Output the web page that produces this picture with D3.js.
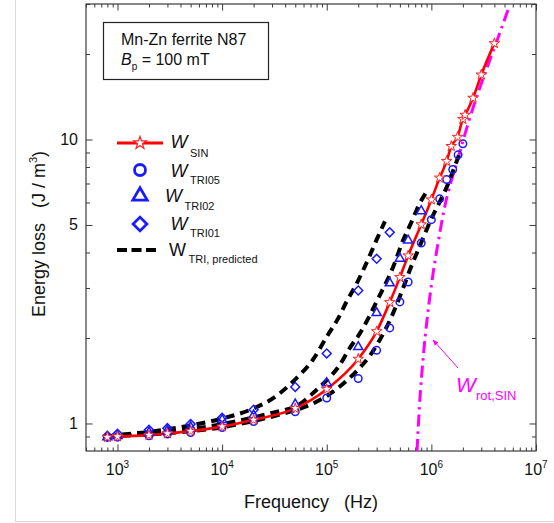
<!DOCTYPE html>
<html>
<head>
<meta charset="utf-8">
<script src="https://cdn.jsdelivr.net/npm/d3@7/dist/d3.min.js"></script>
<style>
  html, body { margin: 0; padding: 0; background: #fff; }
  svg { display: block; font-family: Arial, "Liberation Sans", sans-serif; }
</style>
</head>
<body>
<svg id="chart" width="554" height="523"></svg>
<script>
// ---------------- data ----------------
const freqSIN = [800, 1e3, 2e3, 3e3, 5e3, 1e4, 2e4, 5e4, 1e5, 2e5, 3e5, 4e5, 5e5, 6e5, 8e5, 1e6, 1.2e6, 1.4e6, 1.55e6, 1.78e6, 2.0e6, 2.1e6, 2.5e6, 3e6, 4e6];
const wSIN    = [0.895, 0.9, 0.91, 0.922, 0.94, 0.975, 1.03, 1.13, 1.32, 1.687, 2.11, 2.67, 3.27, 3.9, 5.02, 6.14, 7.33, 8.39, 9.47, 10.2, 11.8, 12.2, 14.0, 16.9, 21.8];

const freqTRI05 = [800, 1e3, 2e3, 3e3, 5e3, 1e4, 2e4, 5e4, 1e5, 2e5, 3e5, 4e5, 5e5, 6e5, 8e5, 1e6, 1.2e6, 1.4e6, 1.6e6, 1.8e6, 2e6];
const wTRI05    = [0.893, 0.895, 0.905, 0.918, 0.929, 0.968, 1.016, 1.10, 1.229, 1.44, 1.81, 2.17, 2.68, 3.15, 4.32, 5.22, 6.18, 7.23, 7.84, 8.83, 9.66];

const freqTRI02 = [800, 1e3, 2e3, 3e3, 5e3, 1e4, 2e4, 5e4, 1e5, 2e5, 3e5, 4e5, 5e5, 6e5, 8e5];
const wTRI02    = [0.895, 0.905, 0.93, 0.945, 0.97, 1.03, 1.068, 1.168, 1.388, 1.86, 2.45, 3.12, 3.81, 4.41, 5.6];

const freqTRI01 = [800, 1e3, 2e3, 3e3, 5e3, 1e4, 2e4, 5e4, 1e5, 2e5, 3e5, 4e5];
const wTRI01    = [0.905, 0.92, 0.95, 0.963, 0.995, 1.048, 1.118, 1.345, 1.765, 2.94, 3.80, 4.71];

// predicted curves (black dashed)
const predFreq01 = [800, 1e3, 2e3, 3e3, 5e3, 1e4, 2e4, 3e4, 5e4, 7.4e4, 1e5, 1.29e5, 1.55e5, 1.87e5, 2.6e5, 3e5, 3.6e5];
const predW01    = [0.9, 0.91, 0.935, 0.955, 0.985, 1.04, 1.13, 1.22, 1.43, 1.68, 2.02, 2.35, 2.69, 3.04, 3.93, 4.44, 5.15];

const predFreq02 = [800, 1e3, 2e3, 3e3, 5e3, 1e4, 2e4, 3e4, 5.6e4, 7.7e4, 1e5, 1.29e5, 1.67e5, 2.08e5, 2.5e5, 3e5, 4.34e5, 5.4e5, 6.5e5, 7.5e5, 9.06e5];
const predW02    = [0.9, 0.905, 0.92, 0.935, 0.955, 0.995, 1.05, 1.09, 1.173, 1.297, 1.42, 1.58, 1.85, 2.08, 2.35, 2.69, 3.58, 4.44, 5.15, 5.82, 6.57];

const predFreq05 = [800, 1e3, 2e3, 5e3, 1e4, 2e4, 4e4, 7e4, 1e5, 1.5e5, 2e5, 2.69e5, 3.24e5, 4.04e5, 5e5, 6.65e5, 7.7e5, 1.01e6, 1.21e6, 1.45e6, 1.63e6, 1.86e6];
const predW05    = [0.9, 0.905, 0.915, 0.94, 0.97, 1.02, 1.088, 1.165, 1.25, 1.40, 1.55, 1.77, 1.98, 2.32, 2.80, 3.69, 4.19, 5.30, 6.06, 7.0, 7.84, 8.92];

// rotational loss (magenta dash-dot)
const rotFreq = [7.29e5, 7.69e5, 8.39e5, 9.12e5, 1.03e6, 1.17e6, 1.31e6, 1.82e6, 2.26e6, 2.72e6, 3.4e6, 4.39e6, 5.4e6];
const rotW    = [0.8, 1.148, 1.738, 2.344, 3.31, 4.416, 5.559, 8.71, 11.48, 14.19, 17.9, 23.1, 28.6];

// axis ticks
const xMajorTicks = [1e3, 1e4, 1e5, 1e6, 1e7];
const xExponents  = ["3", "4", "5", "6", "7"];
const yLabelTicks = [1, 5, 10];
const yLabelText  = ["1", "5", "10"];

// ---------------- layout ----------------
const svg = d3.select("#chart");
const L = 86, R = 536, T = 4, B = 451;
const x = d3.scaleLog().domain([500, 1e7]).range([L, R]);
const y = d3.scaleLog().domain([0.8, 30]).range([B, T]);

const zip = (a, b) => a.map((d, i) => [d, b[i]]);

// page edges (light grey)
svg.append("line").attr("x1", 15.5).attr("x2", 15.5).attr("y1", 0).attr("y2", 521)
  .attr("stroke", "#d9d9d9").attr("stroke-width", 1);
svg.append("line").attr("x1", 15).attr("x2", 554).attr("y1", 521.5).attr("y2", 521.5)
  .attr("stroke", "#d9d9d9").attr("stroke-width", 1);

// ---------------- axes ----------------
const axisColor = "#3a3a3a";
// minor ticks for x
const xMinor = [];
for (let e = 2; e <= 6; e++) for (let m = 1; m <= 9; m++) {
  const v = m * Math.pow(10, e);
  if (v >= 500 && v <= 1e7 && m !== 1) xMinor.push(v);
}
const yMinor = [0.9, 2, 3, 4, 6, 7, 8, 9, 20, 30];
const yMajor = [1, 5, 10];

function styleAxis(g) {
  g.select(".domain").remove();
  g.selectAll("line").attr("stroke", axisColor).attr("stroke-width", 1);
  g.selectAll("text").remove();
}
// bottom
svg.append("g").attr("transform", `translate(0,${B})`)
  .call(d3.axisBottom(x).tickValues(xMinor).tickSize(-3.5).tickFormat(""))
  .call(styleAxis);
const xb = svg.append("g").attr("transform", `translate(0,${B})`)
  .call(d3.axisBottom(x).tickValues(xMajorTicks).tickSize(-6.5).tickFormat(""))
  .call(styleAxis);
// top
svg.append("g").attr("transform", `translate(0,${T})`)
  .call(d3.axisTop(x).tickValues(xMinor).tickSize(-3.5).tickFormat(""))
  .call(styleAxis);
svg.append("g").attr("transform", `translate(0,${T})`)
  .call(d3.axisTop(x).tickValues(xMajorTicks).tickSize(-6.5).tickFormat(""))
  .call(styleAxis);
// left
svg.append("g").attr("transform", `translate(${L},0)`)
  .call(d3.axisLeft(y).tickValues(yMinor).tickSize(-4).tickFormat(""))
  .call(styleAxis);
svg.append("g").attr("transform", `translate(${L},0)`)
  .call(d3.axisLeft(y).tickValues(yMajor).tickSize(-6.5).tickFormat(""))
  .call(styleAxis);
// right
svg.append("g").attr("transform", `translate(${R},0)`)
  .call(d3.axisRight(y).tickValues(yMinor).tickSize(-4).tickFormat(""))
  .call(styleAxis);
svg.append("g").attr("transform", `translate(${R},0)`)
  .call(d3.axisRight(y).tickValues(yMajor).tickSize(-6.5).tickFormat(""))
  .call(styleAxis);

// frame
svg.append("rect").attr("x", L).attr("y", T).attr("width", R - L).attr("height", B - T)
  .attr("fill", "none").attr("stroke", axisColor).attr("stroke-width", 1.2);

// x tick labels 10^n
xMajorTicks.forEach((v, i) => {
  const t = svg.append("text").attr("x", x(v)).attr("y", 475)
    .attr("text-anchor", "middle").attr("font-size", 16).attr("fill", "#111");
  t.append("tspan").text("10");
  t.append("tspan").attr("font-size", 10).attr("dy", -7).text(xExponents[i]);
});
// y tick labels
yLabelTicks.forEach((v, i) => {
  svg.append("text").attr("x", 78).attr("y", y(v) + 5.5)
    .attr("text-anchor", "end").attr("font-size", 16).attr("fill", "#111").text(yLabelText[i]);
});

// axis titles
svg.append("text").attr("x", 311).attr("y", 508).attr("text-anchor", "middle")
  .attr("font-size", 18).attr("fill", "#111").attr("xml:space", "preserve")
  .style("white-space", "pre").text("Frequency   (Hz)");
const yt = svg.append("text").attr("transform", "translate(45,234) rotate(-90)")
  .attr("text-anchor", "middle").attr("font-size", 18).attr("fill", "#111")
  .style("white-space", "pre");
yt.append("tspan").text("Energy loss   (J / m");
yt.append("tspan").attr("font-size", 11).attr("dy", -8).text("3");
yt.append("tspan").attr("dy", 8).text(")");

// ---------------- curves ----------------
const line = d3.line().x(d => x(d[0])).y(d => y(d[1])).curve(d3.curveMonotoneX);

svg.append("defs").append("clipPath").attr("id", "clip")
  .append("rect").attr("x", L).attr("y", T).attr("width", R - L).attr("height", B - T);
const plot = svg.append("g").attr("clip-path", "url(#clip)");

// magenta dash-dot
plot.append("path").attr("d", line(zip(rotFreq, rotW)))
  .attr("fill", "none").attr("stroke", "#ff00ff").attr("stroke-width", 3)
  .attr("stroke-dasharray", "12,5,2.5,5");

// predicted (black dashed)
[[predFreq01, predW01], [predFreq02, predW02], [predFreq05, predW05]].forEach(([f, w]) => {
  plot.append("path").attr("d", line(zip(f, w)))
    .attr("fill", "none").attr("stroke", "#000").attr("stroke-width", 4)
    .attr("stroke-dasharray", "9,6");
});

// red SIN line
plot.append("path").attr("d", line(zip(freqSIN, wSIN)))
  .attr("fill", "none").attr("stroke", "#ff0000").attr("stroke-width", 2.6);

// ---------------- markers ----------------
const blue = "#1a1aff";
const circ = d3.symbol().type(d3.symbolCircle).size(44);
const tri = d3.symbol().type(d3.symbolTriangle).size(36);
const dia = d3.symbol().type(d3.symbolSquare).size(40);
const star = d3.symbol().type(d3.symbolStar).size(34);

plot.selectAll(".d01").data(zip(freqTRI01, wTRI01)).join("path")
  .attr("d", dia).attr("transform", d => `translate(${x(d[0])},${y(d[1])}) rotate(45)`)
  .attr("fill", "none").attr("stroke", blue).attr("stroke-width", 1.5);
plot.selectAll(".d02").data(zip(freqTRI02, wTRI02)).join("path")
  .attr("d", tri).attr("transform", d => `translate(${x(d[0])},${y(d[1])})`)
  .attr("fill", "none").attr("stroke", blue).attr("stroke-width", 1.5);
plot.selectAll(".d05").data(zip(freqTRI05, wTRI05)).join("path")
  .attr("d", circ).attr("transform", d => `translate(${x(d[0])},${y(d[1])})`)
  .attr("fill", "none").attr("stroke", blue).attr("stroke-width", 1.5);
plot.selectAll(".dsin").data(zip(freqSIN, wSIN)).join("path")
  .attr("d", star).attr("transform", d => `translate(${x(d[0])},${y(d[1])})`)
  .attr("fill", "#fff").attr("stroke", "#ff2020").attr("stroke-width", 1);

// ---------------- info box ----------------
svg.append("rect").attr("x", 103.5).attr("y", 22.5).attr("width", 165).attr("height", 57)
  .attr("fill", "#fff").attr("stroke", "#222").attr("stroke-width", 1.2);
svg.append("text").attr("x", 121).attr("y", 45).attr("font-size", 16).attr("fill", "#111")
  .text("Mn-Zn ferrite N87");
const bp = svg.append("text").attr("x", 121).attr("y", 65).attr("font-size", 16).attr("fill", "#111")
  .style("white-space", "pre");
bp.append("tspan").attr("font-style", "italic").text("B");
bp.append("tspan").attr("font-size", 10).attr("dy", 5).text("p");
bp.append("tspan").attr("dy", -5).text(" = 100 mT");

// ---------------- legend ----------------
const lx = 140;
svg.append("line").attr("x1", 117).attr("x2", 163).attr("y1", 143).attr("y2", 143)
  .attr("stroke", "#ff0000").attr("stroke-width", 3);
svg.append("path").attr("d", d3.symbol().type(d3.symbolStar).size(50)())
  .attr("transform", `translate(${lx},143)`).attr("fill", "#fff").attr("stroke", "#ff2020").attr("stroke-width", 1.2);
svg.append("path").attr("d", d3.symbol().type(d3.symbolCircle).size(95)())
  .attr("transform", `translate(${lx},170)`).attr("fill", "none").attr("stroke", blue).attr("stroke-width", 2.8);
svg.append("path").attr("d", d3.symbol().type(d3.symbolTriangle).size(90)())
  .attr("transform", `translate(${lx},196)`).attr("fill", "none").attr("stroke", blue).attr("stroke-width", 2.8);
svg.append("path").attr("d", d3.symbol().type(d3.symbolSquare).size(95)())
  .attr("transform", `translate(${lx},224) rotate(45)`).attr("fill", "none").attr("stroke", blue).attr("stroke-width", 2.8);
svg.append("line").attr("x1", 117).attr("x2", 156).attr("y1", 250).attr("y2", 250)
  .attr("stroke", "#000").attr("stroke-width", 4).attr("stroke-dasharray", "10,4.5");

const legendRows = [
  { xw: 170.5, yw: 148, sub: "SIN", italic: true, ys: 157 },
  { xw: 170.5, yw: 177, sub: "TRI05", italic: true, ys: 184 },
  { xw: 165, yw: 202, sub: "TRI02", italic: true, ys: 210 },
  { xw: 170.5, yw: 230, sub: "TRI01", italic: true, ys: 237 },
  { xw: 169, yw: 256, sub: "TRI, predicted", italic: false, ys: 263 }
];
legendRows.forEach(r => {
  svg.append("text").attr("x", r.xw).attr("y", r.yw).attr("font-size", 18).attr("fill", "#111")
    .attr("font-style", r.italic ? "italic" : "normal").text("W");
  svg.append("text").attr("x", r.xw + 19.5).attr("y", r.ys).attr("font-size", 11).attr("fill", "#111")
    .text(r.sub);
});

// ---------------- W_rot annotation ----------------
svg.append("defs").append("marker").attr("id", "arrow").attr("viewBox", "0 0 10 10")
  .attr("refX", 9).attr("refY", 5).attr("markerWidth", 6).attr("markerHeight", 6)
  .attr("orient", "auto").append("path").attr("d", "M0,1 L10,5 L0,9 Z").attr("fill", "#ff00ff");
svg.append("line").attr("x1", 458).attr("y1", 368).attr("x2", 433).attr("y2", 340)
  .attr("stroke", "#ff00ff").attr("stroke-width", 1).attr("marker-end", "url(#arrow)");
svg.append("text").attr("x", 456).attr("y", 392).attr("font-size", 21).attr("font-style", "italic")
  .attr("fill", "#ff00ff").text("W");
svg.append("text").attr("x", 476).attr("y", 400).attr("font-size", 13)
  .attr("fill", "#ff00ff").text("rot,SIN");
</script>
</body>
</html>
